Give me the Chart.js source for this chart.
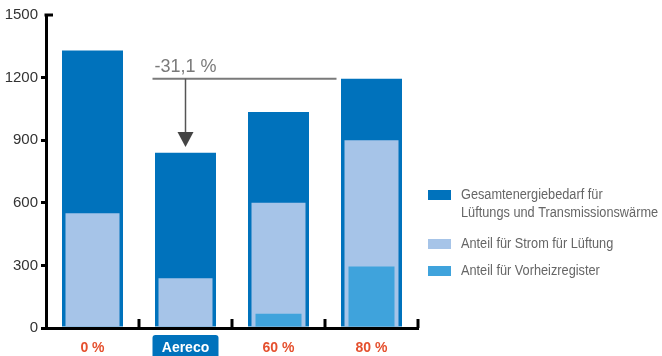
<!DOCTYPE html>
<html>
<head>
<meta charset="utf-8">
<script src="https://cdn.jsdelivr.net/npm/chart.js@4.4.1/dist/chart.umd.min.js"></script>
<style>
  html, body { margin: 0; padding: 0; background: #fff; }
  #wrap { width: 662px; height: 356px; }
</style>
</head>
<body>
<div id="wrap"><canvas id="energyChart"></canvas></div>
<script>
// DATA
const categories = ["0 %", "Aereco", "60 %", "80 %"];
const gesamtBedarf = [1330, 840, 1035, 1195];
const stromLueftung = [550, 238, 600, 900];
const vorheizRegister = [0, 0, 68, 295];
const yTicks = [0, 300, 600, 900, 1200, 1500];
const savingLabel = "-31,1 %";
const arrowTipValue = 868;

const seriesLabels = [
  ["Gesamtenergiebedarf für", "Lüftungs und Transmissionswärme"],
  "Anteil für Strom für Lüftung",
  "Anteil für Vorheizregister",
];

const FONT = "'Liberation Sans', Arial, sans-serif";
const darkBlue = "#0072bc";
const lightBlue = "#a6c4e8";
const midBlue = "#3fa3dc";

const energyChart = document.getElementById("energyChart");

// box behind the "Aereco" label
const labelBox = {
  id: "labelBox",
  beforeDraw(chart) {
    const { ctx, scales: { x } } = chart;
    const cx = x.getPixelForValue(1);
    const top = chart.chartArea.bottom + 7;
    ctx.save();
    ctx.fillStyle = darkBlue;
    ctx.beginPath();
    ctx.roundRect(cx - 33, top, 66, 30, 3);
    ctx.fill();
    ctx.restore();
  },
};

// small axis marks + arrow annotation + legend
const extras = {
  id: "extras",
  afterDraw(chart) {
    const { ctx, chartArea, scales: { x, y } } = chart;
    ctx.save();

    // upward ticks on x axis between categories
    ctx.strokeStyle = "#000";
    ctx.lineWidth = 3;
    const step = x.getPixelForValue(1) - x.getPixelForValue(0);
    for (let i = 0; i < categories.length; i++) {
      const bx = x.getPixelForValue(i) + step / 2;
      ctx.beginPath();
      ctx.moveTo(bx, chartArea.bottom);
      ctx.lineTo(bx, chartArea.bottom - 9);
      ctx.stroke();
    }
    // top mark of y axis points right
    ctx.beginPath();
    ctx.moveTo(chartArea.left - 1.5, y.getPixelForValue(1500));
    ctx.lineTo(chartArea.left + 7, y.getPixelForValue(1500));
    ctx.stroke();

    // arrow annotation
    const xa = x.getPixelForValue(1);
    const yLine = y.getPixelForValue(gesamtBedarf[3]);
    const yTip = y.getPixelForValue(arrowTipValue);
    ctx.strokeStyle = "#7a7a7a";
    ctx.lineWidth = 2;
    ctx.beginPath();
    ctx.moveTo(xa - 33, yLine);
    ctx.lineTo(x.getPixelForValue(3) - 35, yLine);
    ctx.stroke();
    ctx.strokeStyle = "#555";
    ctx.lineWidth = 1.5;
    ctx.beginPath();
    ctx.moveTo(xa, yLine);
    ctx.lineTo(xa, yTip - 12);
    ctx.stroke();
    ctx.fillStyle = "#444";
    ctx.beginPath();
    ctx.moveTo(xa - 8, yTip - 15);
    ctx.lineTo(xa + 8, yTip - 15);
    ctx.lineTo(xa, yTip);
    ctx.closePath();
    ctx.fill();
    ctx.fillStyle = "#7a7a7a";
    ctx.font = "18px " + FONT;
    ctx.textAlign = "left";
    ctx.textBaseline = "alphabetic";
    ctx.fillText(savingLabel, xa - 31, yLine - 7);

    // legend (text squeezed a little to look condensed)
    const lx = 428;
    const rows = [195, 244, 271];
    ctx.font = "14px " + FONT;
    ctx.textBaseline = "middle";
    chart.data.datasets.forEach((ds, i) => {
      ctx.fillStyle = ds.backgroundColor;
      ctx.fillRect(lx, rows[i] - 5, 23, 10);
      ctx.fillStyle = "#666";
      const lines = Array.isArray(ds.label) ? ds.label : [ds.label];
      lines.forEach((t, j) => {
        ctx.save();
        ctx.translate(lx + 33, rows[i] + j * 18);
        ctx.scale(0.91, 1);
        ctx.fillText(t, 0, 0);
        ctx.restore();
      });
    });
    ctx.restore();
  },
};

new Chart(energyChart, {
  type: "bar",
  data: {
    labels: categories,
    datasets: [
      {
        label: seriesLabels[0],
        data: gesamtBedarf,
        backgroundColor: darkBlue,
        barPercentage: 61 / 93,
        categoryPercentage: 1,
        grouped: false,
        order: 3,
      },
      {
        label: seriesLabels[1],
        data: stromLueftung,
        backgroundColor: lightBlue,
        barPercentage: 54 / 93,
        categoryPercentage: 1,
        grouped: false,
        order: 2,
      },
      {
        label: seriesLabels[2],
        data: vorheizRegister,
        backgroundColor: midBlue,
        barPercentage: 46 / 93,
        categoryPercentage: 1,
        grouped: false,
        order: 1,
      },
    ],
  },
  options: {
    responsive: true,
    maintainAspectRatio: false,
    animation: false,
    layout: {
      padding: { top: 15, right: 244, left: 0, bottom: 0 },
    },
    plugins: {
      legend: { display: false },
      tooltip: { enabled: false },
    },
    scales: {
      x: {
        grid: { drawOnChartArea: false, drawTicks: false },
        border: { color: "#000", width: 3 },
        afterFit: (s) => { s.height = 28; },
        ticks: {
          padding: 12,
          font: { family: FONT, size: 14, weight: "bold" },
          color: (c) => (c.index === 1 ? "#fff" : "#e5502e"),
        },
      },
      y: {
        min: 0,
        max: 1500,
        afterBuildTicks: (s) => { s.ticks = yTicks.map((v) => ({ value: v })); },
        afterFit: (s) => { s.width = 46; },
        grid: {
          drawOnChartArea: false,
          tickLength: 5,
          lineWidth: 3,
          tickColor: (c) => (c.tick && c.tick.value === 1500 ? "rgba(0,0,0,0)" : "#000"),
        },
        border: { color: "#000", width: 3 },
        ticks: {
          padding: 3,
          font: { family: FONT, size: 15 },
          color: "#333",
          callback: (v) => String(v),
        },
      },
    },
  },
  plugins: [labelBox, extras],
});
</script>
</body>
</html>
